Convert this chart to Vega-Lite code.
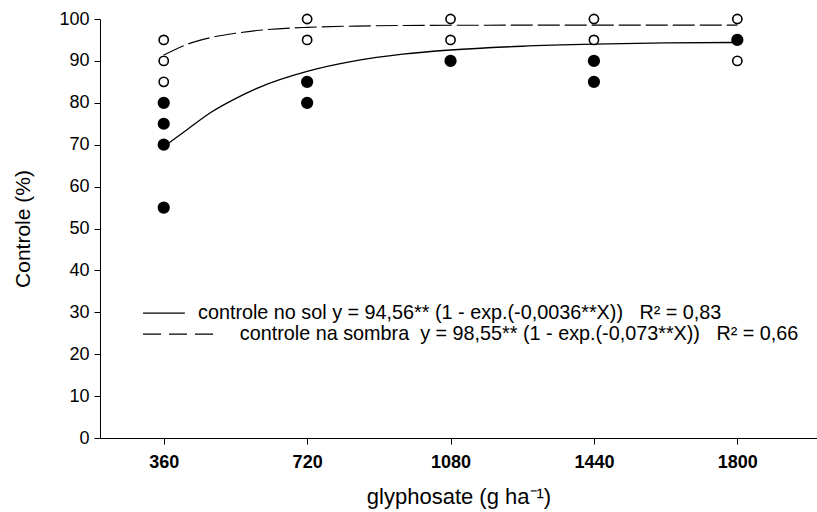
{
  "$schema": "https://vega.github.io/schema/vega-lite/v6.json",
  "width": 717,
  "height": 419,
  "autosize": {"type": "none"},
  "padding": {"left": 100, "top": 19, "right": 0, "bottom": 74},
  "background": "white",
  "config": {
    "view": {"stroke": null},
    "font": "Liberation Sans",
    "axis": {"grid": false, "domainColor": "black", "tickColor": "black", "labelColor": "black", "titleColor": "black", "labelFont": "Liberation Sans", "titleFont": "Liberation Sans", "titleFontWeight": "normal", "domainWidth": 1, "tickWidth": 1}
  },
  "datasets": {
    "pts": [
      {"dose": 360, "controle": 80, "cond": "sol"},
      {"dose": 360, "controle": 75, "cond": "sol"},
      {"dose": 360, "controle": 70, "cond": "sol"},
      {"dose": 360, "controle": 55, "cond": "sol"},
      {"dose": 720, "controle": 85, "cond": "sol"},
      {"dose": 720, "controle": 80, "cond": "sol"},
      {"dose": 1080, "controle": 90, "cond": "sol"},
      {"dose": 1440, "controle": 90, "cond": "sol"},
      {"dose": 1440, "controle": 85, "cond": "sol"},
      {"dose": 1800, "controle": 95, "cond": "sol"},
      {"dose": 360, "controle": 95, "cond": "sombra"},
      {"dose": 360, "controle": 90, "cond": "sombra"},
      {"dose": 360, "controle": 85, "cond": "sombra"},
      {"dose": 720, "controle": 100, "cond": "sombra"},
      {"dose": 720, "controle": 95, "cond": "sombra"},
      {"dose": 1080, "controle": 100, "cond": "sombra"},
      {"dose": 1080, "controle": 95, "cond": "sombra"},
      {"dose": 1440, "controle": 100, "cond": "sombra"},
      {"dose": 1440, "controle": 95, "cond": "sombra"},
      {"dose": 1800, "controle": 100, "cond": "sombra"},
      {"dose": 1800, "controle": 90, "cond": "sombra"}
    ],
    "curves": [
      {"dose": 360, "controle": 69.5, "cond": "sol"},
      {"dose": 420, "controle": 73.7, "cond": "sol"},
      {"dose": 480, "controle": 77.8, "cond": "sol"},
      {"dose": 540, "controle": 81.0, "cond": "sol"},
      {"dose": 600, "controle": 83.7, "cond": "sol"},
      {"dose": 720, "controle": 87.5, "cond": "sol"},
      {"dose": 840, "controle": 90.0, "cond": "sol"},
      {"dose": 960, "controle": 91.6, "cond": "sol"},
      {"dose": 1080, "controle": 92.6, "cond": "sol"},
      {"dose": 1260, "controle": 93.5, "cond": "sol"},
      {"dose": 1440, "controle": 94.0, "cond": "sol"},
      {"dose": 1620, "controle": 94.3, "cond": "sol"},
      {"dose": 1800, "controle": 94.4, "cond": "sol"},
      {"dose": 360, "controle": 91.4, "cond": "sombra"},
      {"dose": 420, "controle": 94.0, "cond": "sombra"},
      {"dose": 480, "controle": 95.6, "cond": "sombra"},
      {"dose": 540, "controle": 96.6, "cond": "sombra"},
      {"dose": 600, "controle": 97.3, "cond": "sombra"},
      {"dose": 720, "controle": 98.0, "cond": "sombra"},
      {"dose": 840, "controle": 98.3, "cond": "sombra"},
      {"dose": 1080, "controle": 98.5, "cond": "sombra"},
      {"dose": 1440, "controle": 98.55, "cond": "sombra"},
      {"dose": 1800, "controle": 98.55, "cond": "sombra"}
    ],
    "leg": [
      {"serie": "sol", "texto": "controle no sol y = 94,56** (1 - exp.(-0,0036**X))\u00a0\u00a0\u00a0R² = 0,83"},
      {"serie": "sombra", "texto": "controle na sombra\u00a0\u00a0y = 98,55** (1 - exp.(-0,073**X))\u00a0\u00a0\u00a0R² = 0,66"}
    ]
  },
  "resolve": {"scale": {"x": "shared", "y": "shared"}},
  "layer": [
    {
      "data": {"name": "curves"},
      "transform": [{"filter": "datum.cond === 'sol'"}],
      "mark": {"type": "line", "interpolate": "monotone", "color": "black", "strokeWidth": 1.3},
      "encoding": {
        "x": {"field": "dose", "type": "quantitative", "title": "glyphosate (g ha⁻¹)", "scale": {"domain": [200, 2000], "nice": false, "zero": false},
          "axis": {"values": [360, 720, 1080, 1440, 1800], "format": "d", "labelFontSize": 18, "labelFontWeight": "bold", "titleFontSize": 22, "tickSize": 6, "labelPadding": 9, "titlePadding": 15}},
        "y": {"field": "controle", "type": "quantitative", "title": "Controle (%)", "scale": {"domain": [0, 100], "nice": false},
          "axis": {"values": [0, 10, 20, 30, 40, 50, 60, 70, 80, 90, 100], "labelFontSize": 18, "titleFontSize": 21, "tickSize": 6, "labelPadding": 5, "titlePadding": 25}}
      }
    },
    {
      "data": {"name": "curves"},
      "transform": [{"filter": "datum.cond === 'sombra'"}],
      "mark": {"type": "line", "interpolate": "monotone", "color": "black", "strokeWidth": 1.1, "strokeDash": [22, 5]},
      "encoding": {
        "x": {"field": "dose", "type": "quantitative", "title": "glyphosate (g ha⁻¹)"},
        "y": {"field": "controle", "type": "quantitative", "title": "Controle (%)"}
      }
    },
    {
      "data": {"name": "pts"},
      "transform": [{"filter": "datum.cond === 'sol'"}],
      "mark": {"type": "point", "shape": "circle", "filled": true, "fill": "black", "stroke": "black", "size": 105, "opacity": 1},
      "encoding": {
        "x": {"field": "dose", "type": "quantitative", "title": "glyphosate (g ha⁻¹)"},
        "y": {"field": "controle", "type": "quantitative", "title": "Controle (%)"}
      }
    },
    {
      "data": {"name": "pts"},
      "transform": [{"filter": "datum.cond === 'sombra'"}],
      "mark": {"type": "point", "shape": "circle", "filled": false, "fill": "white", "fillOpacity": 1, "stroke": "black", "strokeWidth": 1.6, "size": 85, "opacity": 1},
      "encoding": {
        "x": {"field": "dose", "type": "quantitative", "title": "glyphosate (g ha⁻¹)"},
        "y": {"field": "controle", "type": "quantitative", "title": "Controle (%)"}
      }
    },
    {
      "data": {"name": "leg"},
      "transform": [{"filter": "datum.serie === 'sol'"}],
      "mark": {"type": "rule", "color": "black", "strokeWidth": 1.2},
      "encoding": {
        "x": {"datum": 308, "type": "quantitative", "title": "glyphosate (g ha⁻¹)"},
        "x2": {"datum": 413},
        "y": {"datum": 29.8, "type": "quantitative", "title": "Controle (%)"}
      }
    },
    {
      "data": {"name": "leg"},
      "transform": [{"filter": "datum.serie === 'sombra'"}],
      "mark": {"type": "rule", "color": "black", "strokeWidth": 1.2, "strokeDash": [18, 8]},
      "encoding": {
        "x": {"datum": 308, "type": "quantitative", "title": "glyphosate (g ha⁻¹)"},
        "x2": {"datum": 496},
        "y": {"datum": 24.8, "type": "quantitative", "title": "Controle (%)"}
      }
    },
    {
      "data": {"name": "leg"},
      "transform": [{"filter": "datum.serie === 'sol'"}],
      "mark": {"type": "text", "align": "left", "baseline": "middle", "fontSize": 19.8, "font": "Liberation Sans", "color": "black"},
      "encoding": {
        "x": {"datum": 446, "type": "quantitative", "title": "glyphosate (g ha⁻¹)"},
        "y": {"datum": 29.8, "type": "quantitative", "title": "Controle (%)"},
        "text": {"field": "texto"}
      }
    },
    {
      "data": {"name": "leg"},
      "transform": [{"filter": "datum.serie === 'sombra'"}],
      "mark": {"type": "text", "align": "left", "baseline": "middle", "fontSize": 19.8, "font": "Liberation Sans", "color": "black"},
      "encoding": {
        "x": {"datum": 551, "type": "quantitative", "title": "glyphosate (g ha⁻¹)"},
        "y": {"datum": 24.8, "type": "quantitative", "title": "Controle (%)"},
        "text": {"field": "texto"}
      }
    }
  ]
}
